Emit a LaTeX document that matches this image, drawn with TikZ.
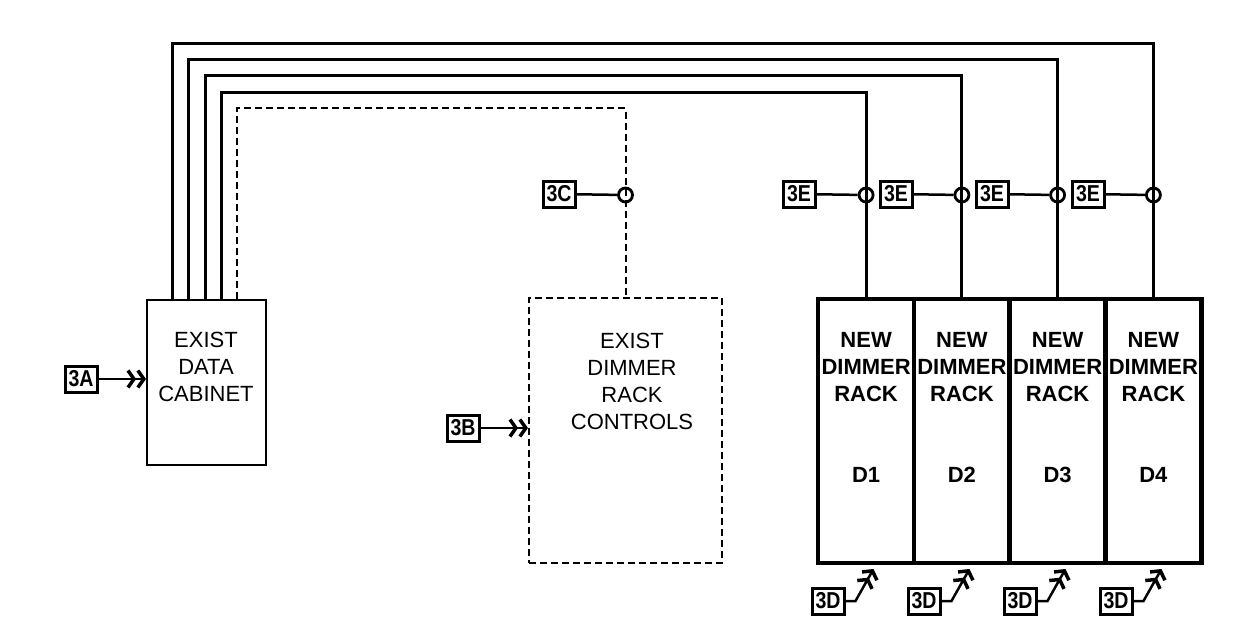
\documentclass[tikz,border=0pt]{standalone}
\usepackage{fontspec}
\setmainfont{Liberation Sans}
\newfontfamily\tagfont[FakeStretch=0.85]{Liberation Sans}
\usetikzlibrary{arrows.meta}
\tikzset{
  cable/.style={line width=3pt},
  dcable/.style={line width=2pt, dash pattern=on 7pt off 4pt},
  tagbox/.style={draw, line width=3pt, minimum width=32pt, minimum height=26pt, inner sep=0pt, font=\tagfont\bfseries\fontsize{23}{23}\selectfont},
  junc/.style={circle, draw, line width=2.8pt, minimum size=14pt, inner sep=0pt},
  rackbox/.style={draw, line width=4.5pt, minimum width=95.75pt, minimum height=264pt, inner sep=0pt},
  thinbox/.style={draw, line width=2pt, inner sep=0pt},
  lbl/.style={align=center, inner sep=0pt, font=\fontsize{22}{27}\selectfont},
  blbl/.style={align=center, inner sep=0pt, font=\bfseries\fontsize{22}{27}\selectfont},
  tagline/.style={line width=2.5pt},
  feed/.style={line width=2.5pt, -{Straight Barb[length=6pt,width=17pt,line width=3.5pt] Straight Barb[length=6pt,width=17pt,line width=3.5pt]}}
}
\begin{document}
\begin{tikzpicture}[x=1pt,y=-1pt]
\useasboundingbox (0,0) rectangle (1251,635);
% boxes
\node[thinbox, minimum width=119pt, minimum height=165pt] (dc) at (206.5,382.5) {};
\node[lbl] (dct) at (206,367) {EXIST\\DATA\\CABINET};
\node[thinbox, dcable, minimum width=193pt, minimum height=265pt] (drc) at (625.5,430.5) {};
\node[lbl] (drct) at (632,381) {EXIST\\DIMMER\\RACK\\CONTROLS};
\node[rackbox] (r1) at (866.1,431) {};
\node[rackbox] (r2) at (961.9,431) {};
\node[rackbox] (r3) at (1057.6,431) {};
\node[rackbox] (r4) at (1153.4,431) {};
\foreach \i/\x in {1/866.1,2/961.9,3/1057.6,4/1153.4}{
  \node[blbl] (rt\i) at (\x,367) {NEW\\DIMMER\\RACK};
  \node[blbl] (rd\i) at (\x,475) {D\i};
}
% cable levels
\coordinate (y1) at (0,43);
\coordinate (y2) at (0,59);
\coordinate (y3) at (0,75);
\coordinate (y4) at (0,92);
\coordinate (y5) at (0,108);
\draw[cable] ([xshift=26pt]dc.north west) -- ([xshift=26pt]dc.north west |- y1) -| (r4.north);
\draw[cable] ([xshift=42pt]dc.north west) -- ([xshift=42pt]dc.north west |- y2) -| (r3.north);
\draw[cable] ([xshift=59pt]dc.north west) -- ([xshift=59pt]dc.north west |- y3) -| (r2.north);
\draw[cable] ([xshift=75pt]dc.north west) -- ([xshift=75pt]dc.north west |- y4) -| (r1.north);
\draw[dcable] ([xshift=91pt]dc.north west) -- ([xshift=91pt]dc.north west |- y5) -| (drc.north);
% junctions and tags
\coordinate (yj) at (0,195);
\node[junc] (jc) at (drc.north |- yj) {};
\node[tagbox] (t3c) at (559,194) {3C};
\draw[tagline] (t3c) -- (jc);
\foreach \i/\tx in {1/799,2/896,3/992,4/1088}{
  \node[junc] (j\i) at (r\i.north |- yj) {};
  \node[tagbox] (te\i) at (\tx,194) {3E};
  \draw[tagline] (te\i) -- (j\i);
}
% inputs
\node[tagbox] (t3a) at (81,379) {3A};
\draw[feed] (t3a.east) -- (t3a.east -| dc.west);
\node[tagbox] (t3b) at (463,428) {3B};
\draw[feed] (t3b.east) -- (t3b.east -| drc.west);
\foreach \i/\tx in {1/828,2/924,3/1020,4/1116}{
  \node[tagbox] (td\i) at (\tx,601) {3D};
  \draw[feed] (td\i.east) -- ++(10,0) -- ++(18,-32);
}
\end{tikzpicture}
\end{document}
